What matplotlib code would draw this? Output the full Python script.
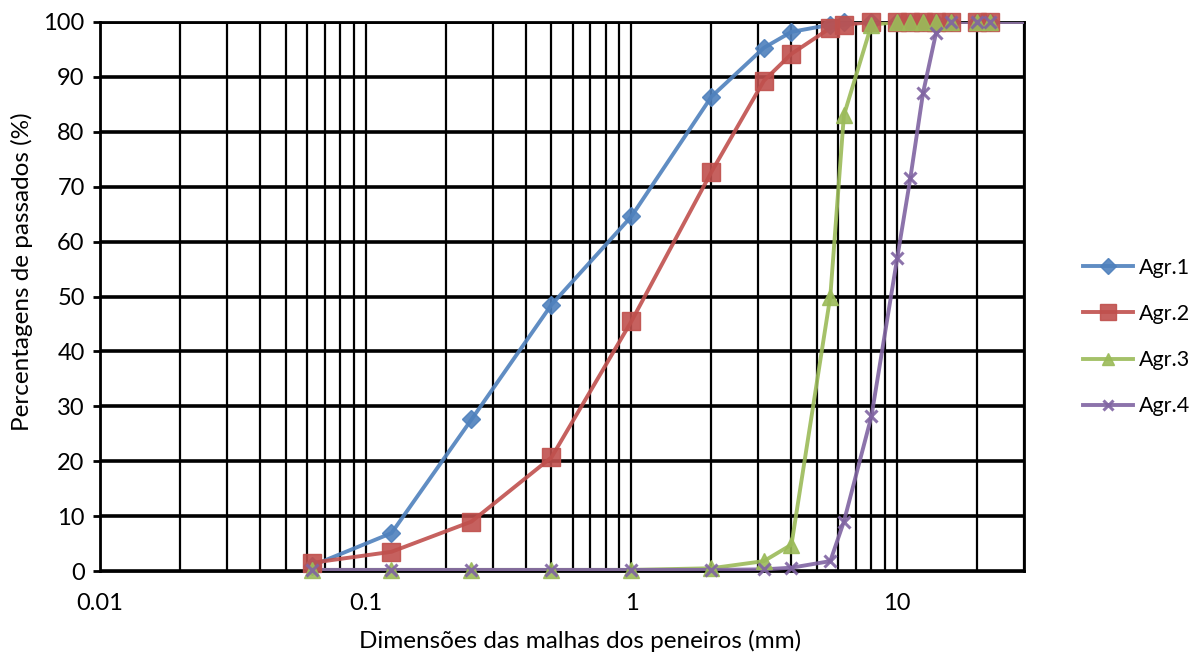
import matplotlib
matplotlib.use("Agg")
import matplotlib.pyplot as plt
from matplotlib.ticker import FixedLocator, NullFormatter, FixedFormatter

plt.rcParams['font.family'] = ['Lato', 'DejaVu Sans']

# Sieve openings (mm)
sieves = [0.063, 0.125, 0.25, 0.5, 1, 2, 3.15, 4, 5.6, 6.3, 8, 10, 11.2,
          12.5, 14, 16, 20, 22.4, 31.5]

# Cumulative percentage passing for each aggregate
agr1 = [1.0, 6.9, 27.6, 48.5, 64.6, 86.4, 95.3, 98.2, 99.5, 100, 100, 100,
        100, 100, 100, 100, 100, 100, 100]
agr2 = [1.5, 3.5, 9.0, 20.7, 45.5, 72.7, 89.3, 94.2, 98.9, 99.5, 100, 100,
        100, 100, 100, 100, 100, 100, 100]
agr3 = [0.2, 0.2, 0.2, 0.2, 0.2, 0.5, 1.8, 4.8, 50.0, 83.0, 99.5, 100,
        100, 100, 100, 100, 100, 100, 100]
agr4 = [0.2, 0.2, 0.2, 0.2, 0.2, 0.2, 0.3, 0.6, 1.8, 9.0, 28.2, 57.0,
        71.5, 87.0, 98.0, 100, 100, 100, 100]

labels = ["Agr.1", "Agr.2", "Agr.3", "Agr.4"]
colors = ["#4F81BD", "#C0504D", "#9BBB59", "#8064A2"]
markers = ["D", "s", "^", "x"]
msizes = [9, 13, 11, 9]

y_ticks = [0, 10, 20, 30, 40, 50, 60, 70, 80, 90, 100]
x_major = [0.01, 0.1, 1, 10]
x_major_labels = ["0.01", "0.1", "1", "10"]
x_max = 30

fig = plt.figure(figsize=(11.98, 6.52), dpi=100)
ax = fig.add_axes([100 / 1198, (652 - 571) / 652, (1024 - 100) / 1198, (571 - 22) / 652])

handles = []
for vals, lab, col, mk, ms in zip([agr1, agr2, agr3, agr4], labels, colors, markers, msizes):
    # connecting line (clipped to the axes)
    ax.plot(sieves, vals, color=col, lw=2.8, zorder=3, alpha=0.9)
    # markers may spill over the top edge
    xs = [s for s in sieves if s <= x_max]
    ys = [v for s, v in zip(sieves, vals) if s <= x_max]
    ax.plot(xs, ys, linestyle="none", color=col, marker=mk, markersize=ms,
            markeredgewidth=2.2 if mk == "x" else 1, markeredgecolor=col,
            zorder=4, alpha=0.9, clip_on=False)
    h, = ax.plot([], [], color=col, lw=2.8, marker=mk, markersize=ms * 0.85,
                 markeredgewidth=2.2 if mk == "x" else 1, label=lab, alpha=0.9)
    handles.append(h)

ax.set_xscale("log")
ax.set_xlim(0.01, x_max)
ax.set_ylim(0, 100)

# vertical grid at every step within each decade
minor_pos = []
for d in [0.01, 0.1, 1, 10]:
    for k in range(1, 10):
        v = d * k
        if v <= x_max:
            minor_pos.append(v)
ax.xaxis.set_major_locator(FixedLocator(x_major))
ax.xaxis.set_major_formatter(FixedFormatter(x_major_labels))
ax.xaxis.set_minor_locator(FixedLocator(minor_pos))
ax.xaxis.set_minor_formatter(NullFormatter())
for v in minor_pos:
    ax.axvline(v, color="black", lw=1.6, zorder=1)
for v in y_ticks:
    ax.axhline(v, color="black", lw=2.6, zorder=1)

ax.set_yticks(y_ticks)
ax.tick_params(axis="x", which="both", length=0, pad=16, labelsize=17)
ax.tick_params(axis="y", length=5, width=2, direction="out", pad=6, labelsize=17)

for s in ax.spines.values():
    s.set_color("black")
    s.set_linewidth(2)

ax.set_xlabel("Dimensões das malhas dos peneiros (mm)", fontsize=17.5)
ax.xaxis.set_label_coords(0.52, -0.108)
ax.set_ylabel("Percentagens de passados (%)", fontsize=17.5)
ax.yaxis.set_label_coords(-0.072, 0.545)

fig.legend(handles=handles, loc="center left", bbox_to_anchor=(1083 / 1198, 1 - 337 / 652),
           bbox_transform=fig.transFigure, frameon=False, borderpad=0, borderaxespad=0,
           fontsize=15.5, handlelength=2.3, labelspacing=1.22, handletextpad=0.3)

fig.savefig("out.png", dpi=100, facecolor="white")
